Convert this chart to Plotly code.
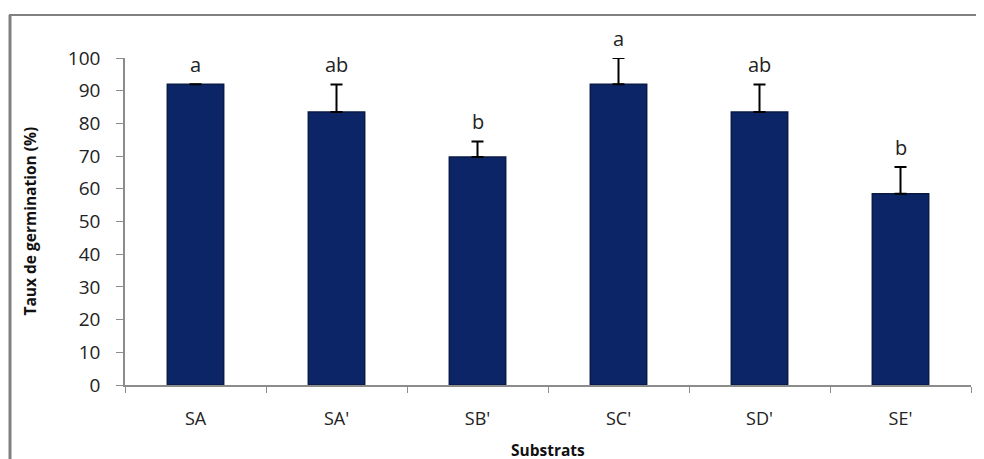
import plotly.graph_objects as go

categories = ["SA", "SA'", "SB'", "SC'", "SD'", "SE'"]
values = [92.0, 83.5, 69.7, 92.0, 83.5, 58.5]
errors = [0.0, 8.4, 4.8, 8.0, 8.4, 8.2]
letters = ["a", "ab", "b", "a", "ab", "b"]
y_ticks = list(range(0, 101, 10))

# page body has an 8px margin: lay out in page pixels minus 8
OFF = 8
W, H = 984 - OFF, 459 - OFF
L, T = 125 - OFF, 58 - OFF
R = W - (971 - OFF)
B = H - (385 - OFF)
pw, ph = W - L - R, H - T - B

def px_x(px):
    return (px - OFF - L) / pw

def px_y(py):
    return (H - B - (py - OFF)) / ph

font = "Open Sans"
err_plot = [e if e > 0 else None for e in errors]

fig = go.Figure()
fig.add_trace(go.Bar(
    x=categories, y=values, width=0.4,
    marker=dict(color="#0c2566", line=dict(color="#081a45", width=1.5)),
    error_y=dict(type="data", array=err_plot, arrayminus=[None] * len(errors),
                 symmetric=False, color="black", thickness=2, width=6),
))

annotations = []
for c, v, e, t in zip(categories, values, errors, letters):
    annotations.append(dict(x=c, y=v + e, text=t, showarrow=False, yanchor="bottom",
                            yshift=4, font=dict(family=font, size=20, color="#222")))
annotations.append(dict(x=0, xref="paper", y=0.5, yref="paper", xanchor="center",
                        yanchor="middle", xshift=-(125 - 29),
                        text="<b>Taux de germination (%)</b>", textangle=-90, showarrow=False,
                        font=dict(family=font, size=15.5, color="#111")))
annotations.append(dict(x=0.5, xref="paper", y=0, yref="paper", yshift=-65,
                        text="<b>Substrats</b>", showarrow=False, yanchor="middle",
                        xanchor="center",
                        font=dict(family=font, size=15.5, color="#111")))

fig.update_layout(
    width=W, height=H,
    margin=dict(l=L, r=R, t=T, b=B),
    paper_bgcolor="white", plot_bgcolor="white",
    showlegend=False,
    annotations=annotations,
    shapes=[
        dict(type="line", xref="paper", yref="paper", x0=px_x(9), x1=px_x(990),
             y0=px_y(15), y1=px_y(15), line=dict(color="#808080", width=2)),
        dict(type="line", xref="paper", yref="paper", x0=px_x(10), x1=px_x(10),
             y0=px_y(15), y1=px_y(470), line=dict(color="#808080", width=3)),
    ],
    xaxis=dict(showline=True, linecolor="#8c8c8c", linewidth=1.5, ticks="outside",
               tickson="boundaries", ticklen=6, tickcolor="#8c8c8c",
               ticklabelstandoff=17,
               tickfont=dict(family=font, size=18, color="#222"), showgrid=False),
    yaxis=dict(range=[0, 100], tickvals=y_ticks, showline=True, linecolor="#8c8c8c",
               linewidth=1.5, ticks="outside", ticklen=7, tickcolor="#8c8c8c",
               ticklabelstandoff=12,
               tickfont=dict(family=font, size=19, color="#222"), showgrid=False,
               zeroline=False),
)

fig.write_html("out.html")
